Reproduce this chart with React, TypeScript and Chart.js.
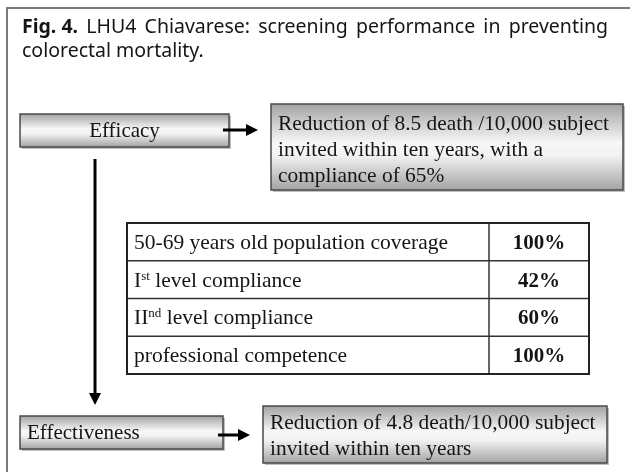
import React, { useEffect, useRef } from "react";
import { Chart, registerables } from "chart.js";

Chart.register(...registerables);

// ---------- data ----------
const titleBold = "Fig. 4.";
const titleLine1 = "LHU4 Chiavarese: screening performance in preventing";
const titleLine2 = "colorectal mortality.";
const stageLabels = ["Efficacy", "Effectiveness"];
const outcomeEfficacy = [
  "Reduction of 8.5 death /10,000 subject",
  "invited within ten years, with a",
  "compliance of 65%",
];
const outcomeEffectiveness = [
  "Reduction of 4.8 death/10,000 subject",
  "invited within ten years",
];
const indicatorLabels = [
  "50-69 years old population coverage",
  "I^st level compliance",
  "II^nd level compliance",
  "professional competence",
];
const indicatorValues = [100, 42, 60, 100];

// ---------- layout (chart units) ----------
const LAYOUT = {
  frame: { x: 7, y: 8 },
  title: { x: 22, right: 608, y1: 27, y2: 51 },
  stageBoxes: [
    { x0: 20, y0: 114, x1: 229, y1: 147, align: "center" },
    { x0: 20, y0: 416, x1: 223, y1: 449, align: "left" },
  ],
  outcomeBoxes: [
    { x0: 271, y0: 104, x1: 623, y1: 190, top: 124 },
    { x0: 263, y0: 406, x1: 607, y1: 463, top: 423 },
  ],
  arrowsH: [
    { x0: 223, x1: 258, y: 130 },
    { x0: 218, x1: 250, y: 435 },
  ],
  arrowV: { x: 95, y0: 159, y1: 405 },
  table: { x0: 127, x1: 589, xDiv: 489, y0: 223, y1: 374 },
  lineH: 26,
};

const SERIF = '"Liberation Serif", "Times New Roman", serif';
const SANS = '"Noto Sans", "Open Sans", sans-serif';
const INK = "#151515";

const diagramPlugin = {
  id: "diagram",
  afterDraw(chart: any) {
    const ctx: CanvasRenderingContext2D = chart.ctx;
    const xs = chart.scales.x;
    const ys = chart.scales.y;
    const X = (v: number) => xs.getPixelForValue(v);
    const Y = (v: number) => ys.getPixelForValue(v);
    ctx.save();

    // frame (top + left)
    ctx.strokeStyle = "#7a7a7a";
    ctx.lineWidth = 2;
    ctx.beginPath();
    ctx.moveTo(X(LAYOUT.frame.x), Y(472));
    ctx.lineTo(X(LAYOUT.frame.x), Y(LAYOUT.frame.y));
    ctx.lineTo(X(630), Y(LAYOUT.frame.y));
    ctx.stroke();

    // title
    ctx.fillStyle = INK;
    ctx.textBaseline = "middle";
    ctx.textAlign = "left";
    const t = LAYOUT.title;
    const boldFont = `bold 19.5px ${SANS}`;
    const regFont = `19.5px ${SANS}`;
    const words = titleLine1.split(" ");
    ctx.font = boldFont;
    const wBold = ctx.measureText(titleBold).width;
    ctx.font = regFont;
    const wWords = words.map((w) => ctx.measureText(w).width);
    const total = wBold + wWords.reduce((a, b) => a + b, 0);
    const gap = (X(t.right) - X(t.x) - total) / words.length;
    let cx = X(t.x);
    ctx.font = boldFont;
    ctx.fillText(titleBold, cx, Y(t.y1));
    cx += wBold + gap;
    ctx.font = regFont;
    words.forEach((w, i) => {
      ctx.fillText(w, cx, Y(t.y1));
      cx += wWords[i] + gap;
    });
    ctx.fillText(titleLine2, X(t.x), Y(t.y2));

    // gradient box helper
    const box = (b: any) => {
      const x0 = X(b.x0), y0 = Y(b.y0), x1 = X(b.x1), y1 = Y(b.y1);
      ctx.fillStyle = "rgba(0,0,0,0.25)";
      ctx.fillRect(x0 + 2, y0 + 2, x1 - x0, y1 - y0);
      const g = ctx.createLinearGradient(0, y0, 0, y1);
      g.addColorStop(0, "#a3a3a3");
      g.addColorStop(0.45, "#f7f7f7");
      g.addColorStop(0.6, "#f2f2f2");
      g.addColorStop(1, "#a3a3a3");
      ctx.fillStyle = g;
      ctx.fillRect(x0, y0, x1 - x0, y1 - y0);
      ctx.strokeStyle = "#4a4a4a";
      ctx.lineWidth = 1.5;
      ctx.strokeRect(x0, y0, x1 - x0, y1 - y0);
    };

    // stage boxes
    LAYOUT.stageBoxes.forEach((b, i) => {
      box(b);
      ctx.fillStyle = INK;
      ctx.font = `21px ${SERIF}`;
      ctx.textBaseline = "middle";
      const ym = Y((b.y0 + b.y1) / 2) + 1;
      if (b.align === "center") {
        ctx.textAlign = "center";
        ctx.fillText(stageLabels[i], X((b.x0 + b.x1) / 2), ym);
      } else {
        ctx.textAlign = "left";
        ctx.fillText(stageLabels[i], X(b.x0 + 7), ym);
      }
    });

    // outcome boxes
    [outcomeEfficacy, outcomeEffectiveness].forEach((lines, i) => {
      const b = LAYOUT.outcomeBoxes[i];
      box(b);
      ctx.fillStyle = INK;
      ctx.font = `21.4px ${SERIF}`;
      ctx.textAlign = "left";
      ctx.textBaseline = "middle";
      lines.forEach((ln, k) => {
        ctx.fillText(ln, X(b.x0 + 7), Y(b.top + k * LAYOUT.lineH));
      });
    });

    // arrows
    ctx.fillStyle = "#000";
    ctx.strokeStyle = "#000";
    ctx.lineWidth = 3;
    LAYOUT.arrowsH.forEach((a) => {
      const y = Y(a.y);
      ctx.beginPath();
      ctx.moveTo(X(a.x0), y);
      ctx.lineTo(X(a.x1) - 10, y);
      ctx.stroke();
      ctx.beginPath();
      ctx.moveTo(X(a.x1), y);
      ctx.lineTo(X(a.x1) - 12, y - 6);
      ctx.lineTo(X(a.x1) - 12, y + 6);
      ctx.closePath();
      ctx.fill();
    });
    {
      const a = LAYOUT.arrowV;
      const x = X(a.x);
      ctx.beginPath();
      ctx.moveTo(x, Y(a.y0));
      ctx.lineTo(x, Y(a.y1) - 10);
      ctx.stroke();
      ctx.beginPath();
      ctx.moveTo(x, Y(a.y1));
      ctx.lineTo(x - 6, Y(a.y1) - 12);
      ctx.lineTo(x + 6, Y(a.y1) - 12);
      ctx.closePath();
      ctx.fill();
    }

    // table
    const tb = LAYOUT.table;
    const n = indicatorLabels.length;
    const rh = (tb.y1 - tb.y0) / n;
    ctx.fillStyle = "#ffffff";
    ctx.fillRect(X(tb.x0), Y(tb.y0), X(tb.x1) - X(tb.x0), Y(tb.y1) - Y(tb.y0));
    ctx.strokeStyle = "#333";
    ctx.lineWidth = 1.5;
    for (let r = 1; r < n; r++) {
      const yy = Y(tb.y0 + r * rh);
      ctx.beginPath();
      ctx.moveTo(X(tb.x0), yy);
      ctx.lineTo(X(tb.x1), yy);
      ctx.stroke();
    }
    ctx.beginPath();
    ctx.moveTo(X(tb.xDiv), Y(tb.y0));
    ctx.lineTo(X(tb.xDiv), Y(tb.y1));
    ctx.stroke();
    ctx.strokeStyle = "#222";
    ctx.lineWidth = 2;
    ctx.strokeRect(X(tb.x0), Y(tb.y0), X(tb.x1) - X(tb.x0), Y(tb.y1) - Y(tb.y0));

    ctx.fillStyle = INK;
    ctx.textBaseline = "alphabetic";
    indicatorLabels.forEach((lab, r) => {
      const base = Y(tb.y0 + r * rh + rh / 2) + 7;
      let px = X(tb.x0 + 7);
      ctx.textAlign = "left";
      lab.split(/(\^\w+)/).forEach((seg) => {
        if (!seg) return;
        if (seg.startsWith("^")) {
          ctx.font = `13px ${SERIF}`;
          const s = seg.slice(1);
          ctx.fillText(s, px, base - 7);
          px += ctx.measureText(s).width;
        } else {
          ctx.font = `21.5px ${SERIF}`;
          ctx.fillText(seg, px, base);
          px += ctx.measureText(seg).width;
        }
      });
      ctx.font = `bold 21px ${SERIF}`;
      ctx.textAlign = "center";
      ctx.fillText(`${indicatorValues[r]}%`, X((tb.xDiv + tb.x1) / 2), base);
    });

    ctx.restore();
  },
};

export default function App() {
  const ref = useRef<HTMLCanvasElement | null>(null);
  useEffect(() => {
    if (!ref.current) return;
    const chart = new Chart(ref.current, {
      type: "scatter",
      data: { datasets: [{ data: [], pointRadius: 0 }] },
      options: {
        responsive: false,
        animation: false,
        events: [],
        layout: { padding: 0 },
        plugins: { legend: { display: false }, tooltip: { enabled: false } },
        scales: {
          x: { type: "linear", min: 0, max: 630, display: false },
          y: { type: "linear", min: 0, max: 472, reverse: true, display: false },
        },
      },
      plugins: [
        {
          id: "bg",
          beforeDraw(c: any) {
            c.ctx.save();
            c.ctx.fillStyle = "#fff";
            c.ctx.fillRect(0, 0, c.width, c.height);
            c.ctx.restore();
          },
        },
        diagramPlugin,
      ],
    });
    return () => chart.destroy();
  }, []);
  return (
    <div style={{ position: "absolute", left: 0, top: 0, width: 630, height: 472, background: "#fff" }}>
      <canvas ref={ref} width={630} height={472} style={{ display: "block", width: 630, height: 472 }} />
    </div>
  );
}
